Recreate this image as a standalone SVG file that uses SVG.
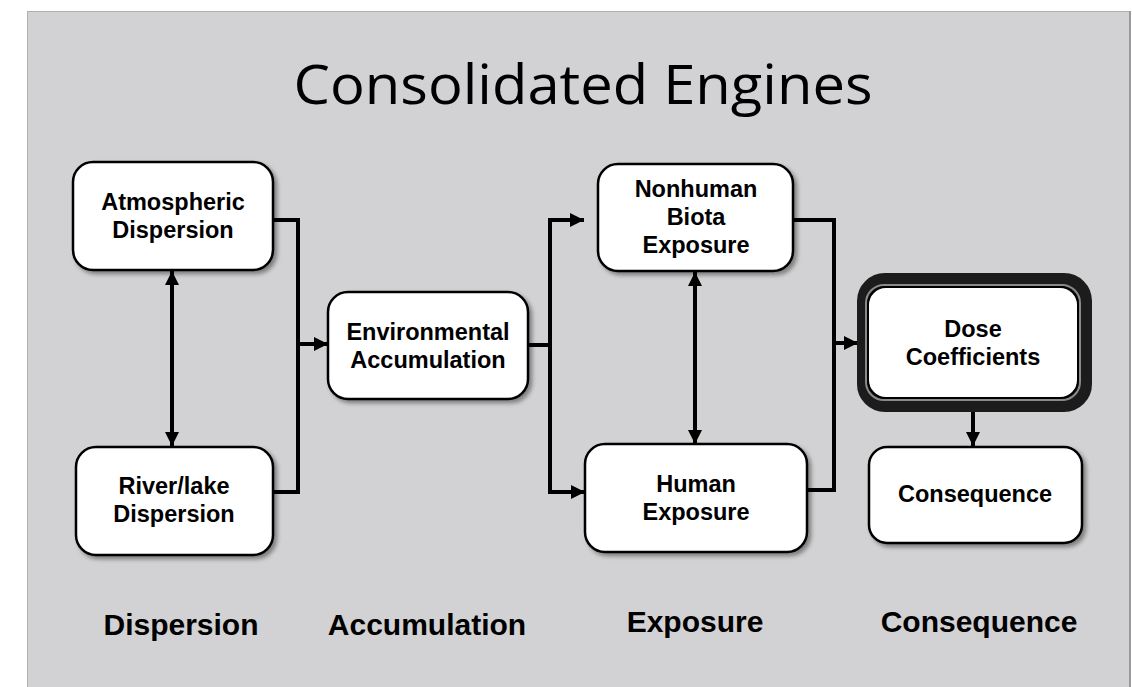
<svg xmlns="http://www.w3.org/2000/svg" width="1132" height="687" viewBox="0 0 1132 687">
<style>
.box{fill:#fff;stroke:#000;stroke-width:2.5;filter:url(#sh)}
.nt{font-family:"Liberation Sans",Arial,sans-serif;font-weight:bold;font-size:23.5px;fill:#000;text-anchor:middle}
.lb{font-family:"Liberation Sans",Arial,sans-serif;font-weight:bold;font-size:30px;fill:#000;text-anchor:middle}
.ttl{font-family:"Open Sans","Noto Sans",sans-serif;font-size:55px;fill:#000;text-anchor:middle}
.cn{fill:none;stroke:#000;stroke-width:4;stroke-linejoin:miter}
</style>
<defs>
<filter id="sh" x="-10%" y="-10%" width="130%" height="130%">
<feDropShadow dx="3" dy="3" stdDeviation="2" flood-color="#000" flood-opacity="0.4"/>
</filter>
<marker id="ah" markerUnits="userSpaceOnUse" markerWidth="14" markerHeight="14" viewBox="0 0 14 14" refX="14" refY="7" orient="auto-start-reverse">
<path d="M0,0 L14,7 L0,14 z" fill="#000"/>
</marker>
</defs>
<rect x="0" y="0" width="1132" height="687" fill="#fff"/>
<rect x="27.5" y="11.5" width="1102" height="680" fill="#d2d2d4" stroke="#b0b0b2" stroke-width="1"/>
<line x1="1130" y1="11" x2="1130" y2="687" stroke="#9a9a9a" stroke-width="2"/>
<text class="ttl" x="583" y="104" textLength="579" lengthAdjust="spacingAndGlyphs">Consolidated Engines</text>

<g id="connectors">
<polyline class="cn" points="273,220 298,220 298,492 273,492"/>
<line class="cn" x1="298" y1="344" x2="328" y2="344" marker-end="url(#ah)"/>
<line class="cn" x1="172" y1="271" x2="172" y2="446" marker-start="url(#ah)" marker-end="url(#ah)"/>
<line class="cn" x1="528" y1="345" x2="550" y2="345"/>
<polyline class="cn" points="584,220 550,220 550,492 585,492" marker-start="url(#ah)" marker-end="url(#ah)"/>
<polyline class="cn" points="793,220 834,220 834,490 807,490"/>
<line class="cn" x1="834" y1="343" x2="858" y2="343" marker-end="url(#ah)"/>
<line class="cn" x1="695" y1="272" x2="695" y2="444" marker-start="url(#ah)" marker-end="url(#ah)"/>
<line class="cn" x1="973" y1="399" x2="973" y2="446" marker-end="url(#ah)"/>
</g>

<g id="atmospheric">
<rect class="box" x="73" y="162" width="200" height="108" rx="20"/>
<text class="nt" x="173" y="210">Atmospheric</text>
<text class="nt" x="173" y="238">Dispersion</text>
</g>
<g id="riverlake">
<rect class="box" x="76" y="447" width="197" height="108" rx="20"/>
<text class="nt" x="174" y="494">River/lake</text>
<text class="nt" x="174" y="522">Dispersion</text>
</g>
<g id="environmental">
<rect class="box" x="328" y="292" width="200" height="107" rx="20"/>
<text class="nt" x="428" y="340">Environmental</text>
<text class="nt" x="428" y="368">Accumulation</text>
</g>
<g id="nonhuman">
<rect class="box" x="598" y="164" width="195" height="107" rx="20"/>
<text class="nt" x="696" y="197">Nonhuman</text>
<text class="nt" x="696" y="225">Biota</text>
<text class="nt" x="696" y="253">Exposure</text>
</g>
<g id="human">
<rect class="box" x="585" y="444" width="222" height="108" rx="20"/>
<text class="nt" x="696" y="492">Human</text>
<text class="nt" x="696" y="520">Exposure</text>
</g>
<g id="dose">
<rect x="863" y="279" width="223" height="127" rx="22" fill="#1c1c1c" stroke="#1c1c1c" stroke-width="12"/>
<rect x="866" y="285" width="214" height="115" rx="18" fill="none" stroke="#8a8a8a" stroke-width="2"/>
<rect x="868" y="287" width="210" height="111" rx="18" fill="#fff" stroke="#000" stroke-width="2"/>
<text class="nt" x="973" y="337">Dose</text>
<text class="nt" x="973" y="365">Coefficients</text>
</g>
<g id="consequence">
<rect class="box" x="869" y="447" width="213" height="96" rx="18"/>
<text class="nt" x="975" y="502">Consequence</text>
</g>

<g id="stage-labels">
<text class="lb" x="181" y="635">Dispersion</text>
<text class="lb" x="427" y="635">Accumulation</text>
<text class="lb" x="695" y="632">Exposure</text>
<text class="lb" x="979" y="632">Consequence</text>
</g>
</svg>
